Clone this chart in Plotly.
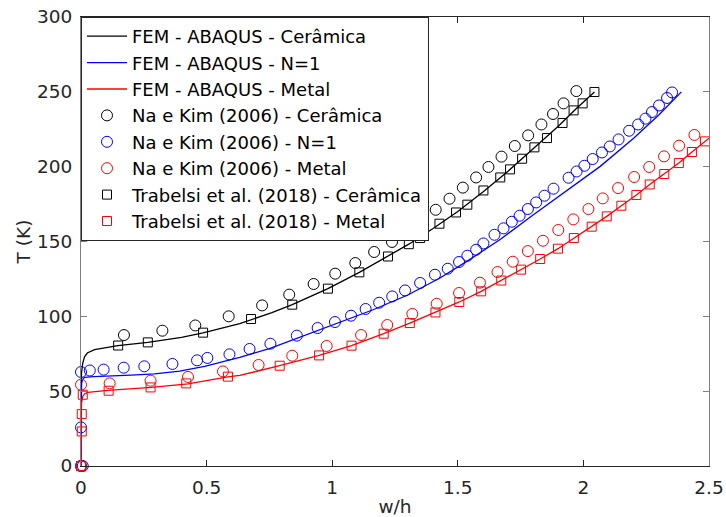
import plotly.graph_objects as go

# FEM (ABAQUS) temperature curves
fem_cer_x = [0, 0, 0.002, 0.007, 0.014, 0.025, 0.054, 0.147, 0.266, 0.40, 0.486, 0.632, 0.760,
             0.841, 0.983, 1.108, 1.222, 1.305, 1.40, 1.50, 1.60, 1.70, 1.80, 1.90, 1.97, 2.044]
fem_cer_y = [0, 35, 62, 68.8, 73, 75.5, 77.7, 80.4, 82.6, 86, 89.0, 95.1, 102.5,
             107.8, 118.5, 129.4, 140.0, 148.2, 158.5, 170, 183, 197, 212, 227, 238.5, 249.9]

fem_n1_x = [0, 0, 0.002, 0.006, 0.014, 0.05, 0.094, 0.2, 0.293, 0.393, 0.492, 0.632, 0.75,
            0.898, 1.03, 1.163, 1.303, 1.429, 1.536, 1.67, 1.801, 1.93, 2.067, 2.2, 2.3, 2.39]
fem_n1_y = [0, 35, 55, 57.7, 59.2, 59.7, 59.9, 60.7, 61.5, 63.4, 66.6, 72.6, 78.5,
            87.7, 95.8, 104.4, 114.4, 125.6, 136.7, 151.5, 167.9, 183.8, 200.2, 219, 234.5, 250]

fem_met_x = [0, 0, 0.002, 0.007, 0.015, 0.027, 0.107, 0.280, 0.426, 0.585, 0.632, 0.791, 0.948,
             1.077, 1.205, 1.309, 1.411, 1.506, 1.593, 1.673, 1.752, 1.828, 1.899, 1.962, 2.033,
             2.093, 2.151, 2.211, 2.264, 2.322, 2.380, 2.432, 2.5]
fem_met_y = [0, 30, 42, 46.5, 48.3, 49.2, 50.5, 52.5, 54.8, 59.5, 60.5, 67.0, 73.9,
             80.4, 88.4, 95.5, 102.6, 109.6, 116.7, 123.9, 131.2, 138.3, 145.2, 152.3, 159.9,
             166.8, 173.9, 181.1, 188.1, 195.1, 202.4, 209.8, 219.0]

# Na e Kim (2006)
nk_cer_x = [0, 0.171, 0.324, 0.455, 0.588, 0.721, 0.829, 0.926, 1.012, 1.092, 1.167, 1.238, 1.303,
            1.360, 1.412, 1.467, 1.520, 1.573, 1.622, 1.674, 1.727, 1.780, 1.833, 1.879, 1.921, 1.972]
nk_cer_y = [0, 87.5, 90.4, 93.9, 100.0, 107.3, 114.5, 121.6, 128.5, 135.6, 143.0, 149.7, 156.1,
            163.9, 171.2, 178.6, 186.0, 192.8, 199.8, 206.7, 213.8, 220.9, 228.2, 235.2, 242.3, 250.5]

nk_n1_x = [0.007, 0, 0, 0.035, 0.090, 0.170, 0.252, 0.364, 0.462, 0.503, 0.591, 0.671, 0.754,
           0.859, 0.942, 1.011, 1.075, 1.133, 1.187, 1.239, 1.290, 1.350, 1.409, 1.460, 1.505,
           1.538, 1.573, 1.602, 1.646, 1.682, 1.715, 1.746, 1.779, 1.812, 1.845, 1.881, 1.941,
           1.973, 2.004, 2.037, 2.074, 2.105, 2.140, 2.182, 2.218, 2.247, 2.273, 2.301, 2.333, 2.353]
nk_n1_y = [0, 25.8, 62.8, 63.8, 64.4, 65.7, 66.6, 68.2, 70.6, 72.2, 74.6, 78.2, 81.7,
           87.1, 92.2, 96.2, 100.4, 104.9, 109.1, 113.3, 117.3, 122.3, 127.8, 131.8, 136.3,
           140.5, 144.5, 148.7, 154.5, 158.8, 163.2, 167.2, 171.7, 176.1, 180.6, 185.3, 192.6,
           196.8, 200.6, 205.1, 209.5, 213.5, 218.2, 224.0, 228.2, 232.1, 236.5, 240.9, 245.9, 249.6]

nk_met_x = [0, 0, 0.114, 0.277, 0.426, 0.565, 0.707, 0.841, 0.978, 1.115, 1.219, 1.319, 1.416,
            1.505, 1.588, 1.658, 1.719, 1.779, 1.839, 1.900, 1.960, 2.020, 2.077, 2.138, 2.202,
            2.262, 2.321, 2.381, 2.442]
nk_met_y = [0, 54.3, 55.2, 57.0, 59.5, 63.2, 67.5, 73.7, 80.2, 87.5, 94.2, 101.6, 108.4,
            115.6, 122.5, 129.6, 136.5, 143.6, 150.5, 157.7, 164.8, 171.7, 178.8, 185.7, 193.1,
            199.8, 206.9, 214.0, 221.2]

# Trabelsi et al. (2018)
tr_cer_x = [0, 0.148, 0.266, 0.486, 0.677, 0.841, 0.983, 1.108, 1.222, 1.305, 1.350, 1.427,
            1.493, 1.538, 1.602, 1.669, 1.708, 1.756, 1.805, 1.855, 1.917, 1.961, 1.997, 2.044]
tr_cer_y = [0, 80.5, 82.6, 89.1, 98.2, 107.8, 118.5, 129.4, 140.0, 148.2, 152.3, 161.9,
            169.4, 174.6, 184.1, 192.8, 198.2, 205.3, 212.9, 219.1, 229.2, 237.6, 242.3, 249.9]

tr_met_x = [0, 0.003, 0.003, 0.007, 0.110, 0.277, 0.419, 0.585, 0.791, 0.948, 1.077, 1.205,
            1.309, 1.411, 1.506, 1.593, 1.673, 1.752, 1.828, 1.899, 1.962, 2.033, 2.093, 2.151,
            2.211, 2.264, 2.322, 2.380, 2.432, 2.484]
tr_met_y = [0, 23.1, 34.7, 47.6, 50.3, 52.5, 55.2, 59.7, 67.0, 73.9, 80.4, 88.4,
            95.5, 102.6, 109.6, 116.7, 123.9, 131.2, 138.3, 145.2, 152.3, 159.9, 166.8, 173.9,
            181.1, 188.1, 195.1, 202.4, 209.8, 216.9]

x_ticks = [0, 0.5, 1, 1.5, 2, 2.5]
x_tick_labels = ["0", "0.5", "1", "1.5", "2", "2.5"]
y_ticks = [0, 50, 100, 150, 200, 250, 300]

FONT = "DejaVu Sans"
TXT = "#262626"

fig = go.Figure()

for xs, ys, col, name in [
    (fem_cer_x, fem_cer_y, "#000000", "FEM - ABAQUS - Cerâmica"),
    (fem_n1_x, fem_n1_y, "#0000ff", "FEM - ABAQUS - N=1"),
    (fem_met_x, fem_met_y, "#ff0000", "FEM - ABAQUS - Metal"),
]:
    fig.add_trace(go.Scatter(x=xs, y=ys, mode="lines", name=name,
                             line=dict(color=col, width=1.3)))

for xs, ys, col, sym, size, name in [
    (nk_cer_x, nk_cer_y, "#000000", "circle-open", 11, "Na e Kim (2006) - Cerâmica"),
    (nk_n1_x, nk_n1_y, "#0000ff", "circle-open", 11, "Na e Kim (2006) - N=1"),
    (nk_met_x, nk_met_y, "#ff0000", "circle-open", 11, "Na e Kim (2006) - Metal"),
    (tr_cer_x, tr_cer_y, "#000000", "square-open", 9, "Trabelsi et al. (2018) - Cerâmica"),
    (tr_met_x, tr_met_y, "#ff0000", "square-open", 9, "Trabelsi et al. (2018) - Metal"),
]:
    fig.add_trace(go.Scatter(x=xs, y=ys, mode="markers", name=name, cliponaxis=False,
                             marker=dict(symbol=sym, size=size, color=col,
                                         line=dict(color=col, width=1))))

fig.update_layout(
    width=726, height=517,
    margin=dict(l=81, r=17, t=17, b=51),
    paper_bgcolor="white", plot_bgcolor="white",
    font=dict(family=FONT, size=18.5, color=TXT),
    showlegend=True,
    legend=dict(x=0, y=1, xanchor="left", yanchor="top",
                bgcolor="white", bordercolor="#262626", borderwidth=1,
                font=dict(family=FONT, size=18, color="#000000"),
                itemwidth=40, tracegroupgap=0),
    xaxis=dict(range=[0, 2.5], tickvals=x_ticks, ticktext=x_tick_labels, automargin=False,
               showgrid=False, zeroline=False, showline=True, linecolor="#262626",
               linewidth=1, mirror="ticks", ticks="inside", ticklen=6, tickcolor="#262626",
               ticklabelstandoff=5,
               title=dict(text="w/h", standoff=2, font=dict(family=FONT, size=18.5, color=TXT))),
    yaxis=dict(range=[0, 300], tickvals=y_ticks, automargin=False,
               showgrid=False, zeroline=False, showline=True, linecolor="#7f7f7f",
               linewidth=1, mirror="ticks", ticks="inside", ticklen=6, tickcolor="#7f7f7f",
               ticklabelstandoff=4,
               title=dict(text="T (K)", standoff=1, font=dict(family=FONT, size=18.5, color=TXT))),
)

fig.write_html("out.html")
